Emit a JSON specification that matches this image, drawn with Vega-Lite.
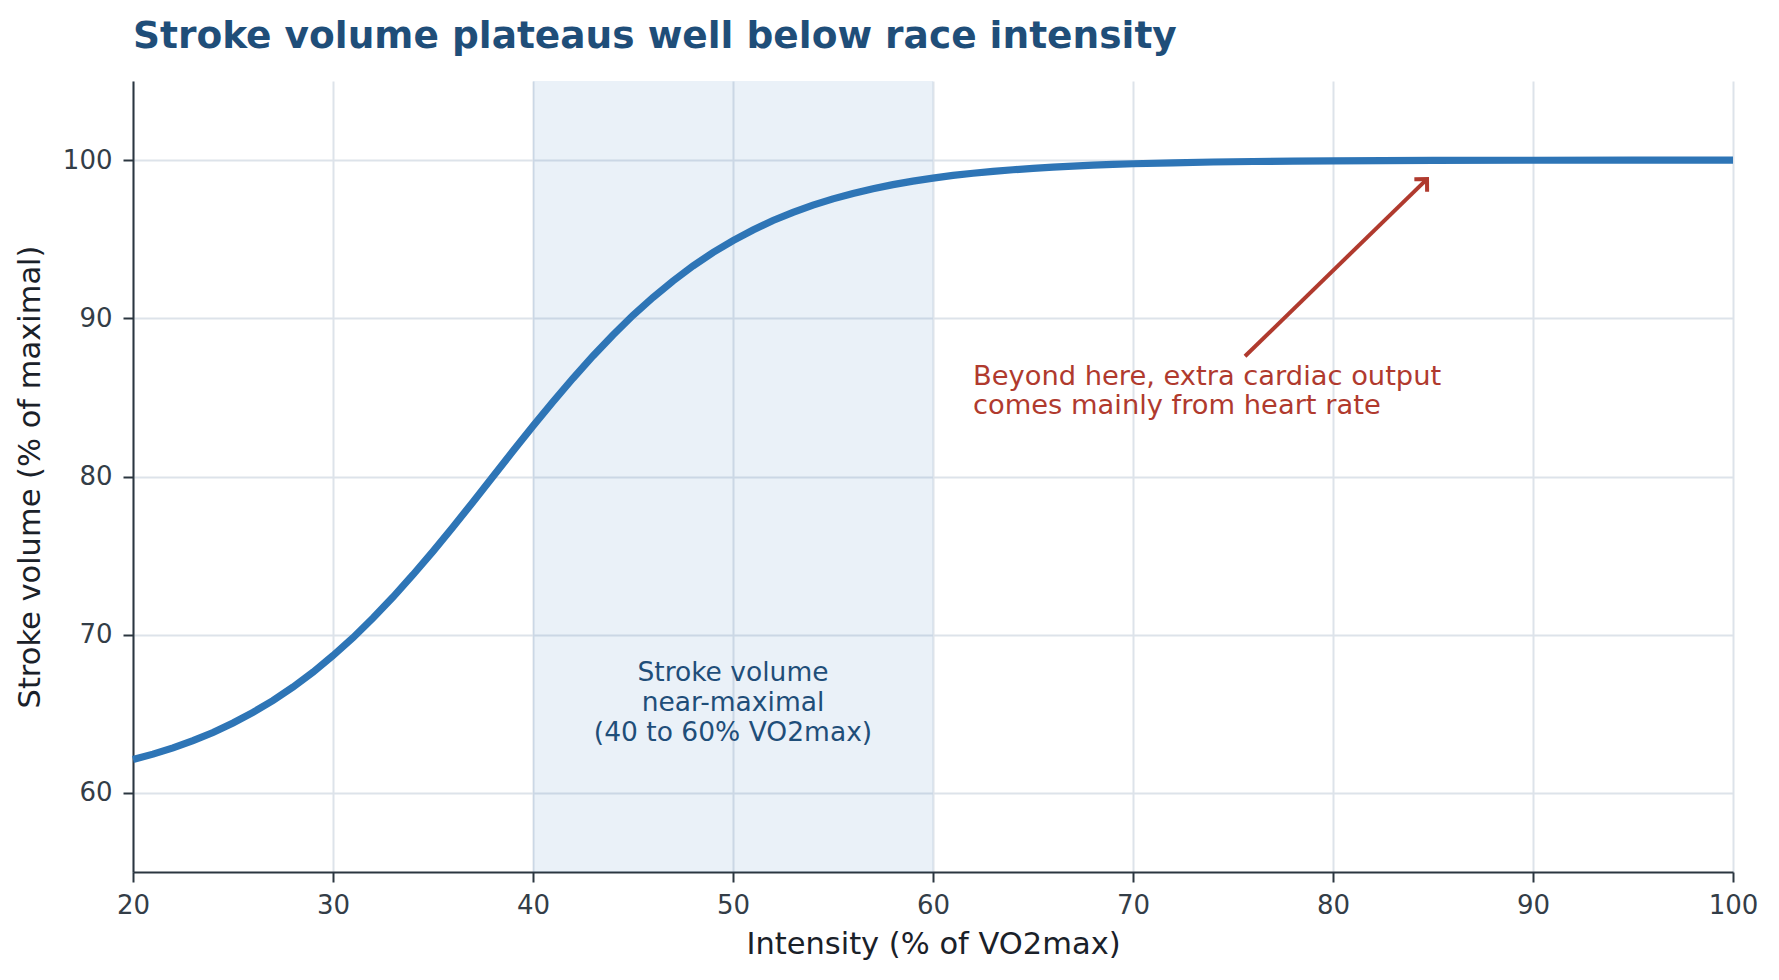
{
  "$schema": "https://vega.github.io/schema/vega-lite/v6.json",
  "autosize": {"type": "none"},
  "width": 1600,
  "height": 791,
  "padding": {"left": 133, "top": 81, "right": 46, "bottom": 108},
  "background": "white",
  "title": {
    "text": "Stroke volume plateaus well below race intensity",
    "anchor": "start",
    "frame": "group",
    "font": "DejaVu Sans",
    "fontSize": 37.5,
    "fontWeight": "bold",
    "color": "#1f4e79",
    "baseline": "alphabetic",
    "offset": -4
  },
  "datasets": {
    "curve": [
      {"intensity": 20, "sv": 62.11}, {"intensity": 21, "sv": 62.45}, {"intensity": 22, "sv": 62.85},
      {"intensity": 23, "sv": 63.30}, {"intensity": 24, "sv": 63.82}, {"intensity": 25, "sv": 64.42},
      {"intensity": 26, "sv": 65.09}, {"intensity": 27, "sv": 65.84}, {"intensity": 28, "sv": 66.69},
      {"intensity": 29, "sv": 67.63}, {"intensity": 30, "sv": 68.68}, {"intensity": 31, "sv": 69.81},
      {"intensity": 32, "sv": 71.05}, {"intensity": 33, "sv": 72.38}, {"intensity": 34, "sv": 73.79},
      {"intensity": 35, "sv": 75.27}, {"intensity": 36, "sv": 76.81}, {"intensity": 37, "sv": 78.39},
      {"intensity": 38, "sv": 80.00}, {"intensity": 39, "sv": 81.61}, {"intensity": 40, "sv": 83.19},
      {"intensity": 41, "sv": 84.72}, {"intensity": 42, "sv": 86.21}, {"intensity": 43, "sv": 87.62},
      {"intensity": 44, "sv": 88.95}, {"intensity": 45, "sv": 90.19}, {"intensity": 46, "sv": 91.32},
      {"intensity": 47, "sv": 92.36}, {"intensity": 48, "sv": 93.31}, {"intensity": 49, "sv": 94.16},
      {"intensity": 50, "sv": 94.91}, {"intensity": 51, "sv": 95.58}, {"intensity": 52, "sv": 96.18},
      {"intensity": 53, "sv": 96.70}, {"intensity": 54, "sv": 97.15}, {"intensity": 55, "sv": 97.55},
      {"intensity": 56, "sv": 97.89}, {"intensity": 57, "sv": 98.19}, {"intensity": 58, "sv": 98.45},
      {"intensity": 59, "sv": 98.67}, {"intensity": 60, "sv": 98.86}, {"intensity": 61, "sv": 99.03},
      {"intensity": 62, "sv": 99.17}, {"intensity": 63, "sv": 99.29}, {"intensity": 64, "sv": 99.39},
      {"intensity": 65, "sv": 99.48}, {"intensity": 66, "sv": 99.56}, {"intensity": 67, "sv": 99.62},
      {"intensity": 68, "sv": 99.68}, {"intensity": 69, "sv": 99.73}, {"intensity": 70, "sv": 99.77},
      {"intensity": 72, "sv": 99.83}, {"intensity": 74, "sv": 99.88}, {"intensity": 76, "sv": 99.91},
      {"intensity": 78, "sv": 99.93}, {"intensity": 80, "sv": 99.95}, {"intensity": 85, "sv": 99.98},
      {"intensity": 90, "sv": 99.99}, {"intensity": 95, "sv": 100.0}, {"intensity": 100, "sv": 100.0}
    ],
    "band": [{"start": 40, "end": 60, "low": 55, "high": 105}],
    "bandLabel": [{"x": 50, "y": 67.6, "label": ["Stroke volume", "near-maximal", "(40 to 60% VO2max)"]}],
    "note": [{"x": 62, "y": 86.3, "label": ["Beyond here, extra cardiac output", "comes mainly from heart rate"]}],
    "arrow": [{"x": 75.6, "y": 87.6, "x2": 84.7, "y2": 98.8}]
  },
  "layer": [
    {
      "data": {"name": "band"},
      "mark": {"type": "rect", "fill": "#2e75b6", "opacity": 0.1},
      "encoding": {
        "x": {"field": "start", "type": "quantitative"},
        "x2": {"field": "end"},
        "y": {"field": "low", "type": "quantitative"},
        "y2": {"field": "high"}
      }
    },
    {
      "data": {"name": "curve"},
      "mark": {"type": "line", "color": "#2e75b6", "strokeWidth": 7.2, "strokeCap": "butt"},
      "encoding": {
        "x": {
          "field": "intensity",
          "type": "quantitative",
          "title": "Intensity (% of VO2max)",
          "scale": {"domain": [20, 100], "nice": false, "zero": false},
          "axis": {"values": [20, 30, 40, 50, 60, 70, 80, 90, 100]}
        },
        "y": {
          "field": "sv",
          "type": "quantitative",
          "title": "Stroke volume (% of maximal)",
          "scale": {"domain": [55, 105], "nice": false, "zero": false},
          "axis": {"values": [60, 70, 80, 90, 100]}
        }
      }
    },
    {
      "data": {"name": "bandLabel"},
      "mark": {"type": "text", "font": "DejaVu Sans", "fontSize": 26.5, "color": "#1f4e79", "align": "center", "baseline": "middle", "lineHeight": 30},
      "encoding": {
        "x": {"field": "x", "type": "quantitative"},
        "y": {"field": "y", "type": "quantitative"},
        "text": {"field": "label"}
      }
    },
    {
      "data": {"name": "note"},
      "mark": {"type": "text", "font": "DejaVu Sans", "fontSize": 27.3, "color": "#b03a2e", "align": "left", "baseline": "middle", "lineHeight": 29.5},
      "encoding": {
        "x": {"field": "x", "type": "quantitative"},
        "y": {"field": "y", "type": "quantitative"},
        "text": {"field": "label"}
      }
    },
    {
      "data": {"name": "arrow"},
      "mark": {"type": "rule", "color": "#b03a2e", "strokeWidth": 4},
      "encoding": {
        "x": {"field": "x", "type": "quantitative"},
        "y": {"field": "y", "type": "quantitative"},
        "x2": {"field": "x2"},
        "y2": {"field": "y2"}
      }
    },
    {
      "data": {"name": "arrow"},
      "mark": {"type": "point", "shape": "M -1 1 L 0 0 L 1 1", "filled": false, "stroke": "#b03a2e", "strokeWidth": 4, "strokeJoin": "miter", "size": 320, "angle": 44.5, "opacity": 1},
      "encoding": {
        "x": {"field": "x2", "type": "quantitative"},
        "y": {"field": "y2", "type": "quantitative"}
      }
    }
  ],
  "config": {
    "view": {"stroke": null},
    "font": "DejaVu Sans",
    "axis": {
      "grid": true,
      "gridColor": "#dde3ea",
      "gridWidth": 2,
      "domainColor": "#2b3640",
      "domainWidth": 2,
      "tickColor": "#2b3640",
      "tickWidth": 2,
      "tickSize": 10,
      "labelFont": "DejaVu Sans",
      "labelFontSize": 26,
      "labelColor": "#333d47",
      "labelFlush": false,
      "titleFont": "DejaVu Sans",
      "titleFontSize": 30.5,
      "titleFontWeight": "normal",
      "titleColor": "#1a2129"
    },
    "axisX": {"labelPadding": 10, "titlePadding": 11},
    "axisY": {"labelPadding": 11, "titlePadding": 17}
  }
}
